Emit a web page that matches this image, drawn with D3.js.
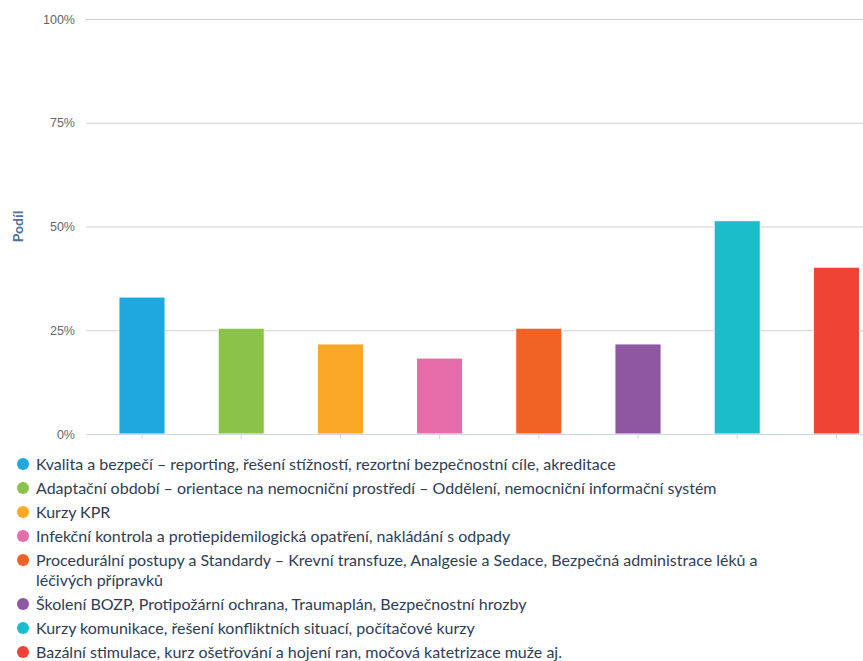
<!DOCTYPE html>
<html>
<head>
<meta charset="utf-8">
<script src="https://cdn.jsdelivr.net/npm/d3@7/dist/d3.min.js"></script>
<style>
	body{ margin:0; background:#fff; overflow:hidden; }
	svg{ display:block; font-family:Lato, "Noto Sans", sans-serif; }
</style>
</head>
<body>
<div id="chart"></div>
<script>
// data
var categories = [
	"Kvalita a bezpečí – reporting, řešení stížností, rezortní bezpečnostní cíle, akreditace",
	"Adaptační období – orientace na nemocniční prostředí – Oddělení, nemocniční informační systém",
	"Kurzy KPR",
	"Infekční kontrola a protiepidemilogická opatření, nakládání s odpady",
	"Procedurální postupy a Standardy – Krevní transfuze, Analgesie a Sedace, Bezpečná administrace léků a léčivých přípravků",
	"Školení BOZP, Protipožární ochrana, Traumaplán, Bezpečnostní hrozby",
	"Kurzy komunikace, řešení konfliktních situací, počítačové kurzy",
	"Bazální stimulace, kurz ošetřování a hojení ran, močová katetrizace muže aj."
];
var shares = [33.0, 25.5, 21.7, 18.3, 25.5, 21.7, 51.4, 40.2];
var colors = ["#1fa8e0", "#8bc34a", "#fba827", "#e76caa", "#ef6424", "#8f56a1", "#1bbdcc", "#ef4336"];
var yTicks = [0, 25, 50, 75, 100];
var yTitle = "Podíl";

var width = 863, height = 661;
var svg = d3.select("#chart").append("svg")
	.attr("width", width)
	.attr("height", height);

var plotLeft = 86,
	plotTop = 19,
	plotBottom = 434,
	step = 99.2;

var y = d3.scaleLinear().domain([0, 100]).range([plotBottom, plotTop]);
var x = d3.scaleBand()
	.domain(d3.range(categories.length))
	.range([92.4, 92.4 + step * categories.length])
	.paddingInner(0.535)
	.paddingOuter(0.2675);

// grid
var yAxis = d3.axisLeft(y).tickValues(yTicks)
	.tickSize(-(width - plotLeft))
	.tickPadding(10)
	.tickFormat(function(d){ return d + "%"; });
var gy = svg.append("g").attr("class", "y-axis")
	.attr("transform", "translate(" + plotLeft + ",0)")
	.call(yAxis);
gy.select(".domain").remove();
gy.selectAll(".tick line").attr("stroke", "#d0d0d0").attr("stroke-width", 1);
gy.selectAll(".tick text")
	.attr("fill", "#666")
	.attr("font-size", 12.5)
	.attr("x", -11);

// bars
svg.append("g").attr("class", "bars")
	.selectAll("rect")
	.data(shares)
	.enter().append("rect")
	.attr("x", function(d, i){ return x(i); })
	.attr("y", function(d){ return y(d); })
	.attr("width", x.bandwidth())
	.attr("height", function(d){ return plotBottom - y(d); })
	.attr("fill", function(d, i){ return colors[i]; })
	.attr("stroke", "#fff")
	.attr("stroke-width", 1);

// x axis
var xAxis = d3.axisBottom(x).tickSize(5).tickFormat("");
var gx = svg.append("g").attr("class", "x-axis")
	.attr("transform", "translate(0," + plotBottom + ")")
	.call(xAxis);
gx.select(".domain").attr("d", "M" + plotLeft + ",0.5H" + width).attr("stroke", "#ccd6eb");
gx.selectAll(".tick line").attr("stroke", "#ccd6eb");

// y title
svg.append("text")
	.attr("transform", "translate(23," + ((plotTop + plotBottom) / 2) + ") rotate(-90)")
	.attr("text-anchor", "middle")
	.attr("font-size", 14)
	.attr("font-weight", "bold")
	.attr("fill", "#4d73a3")
	.text(yTitle);

// legend
var legend = svg.append("g").attr("class", "legend"),
	ly = 470,
	maxW = 745;
categories.forEach(function(name, i){
	var item = legend.append("g");
	item.append("circle")
		.attr("cx", 23)
		.attr("cy", ly - 6)
		.attr("r", 6)
		.attr("fill", colors[i]);
	var t = item.append("text")
		.attr("x", 36)
		.attr("y", ly)
		.attr("font-size", 16)
		.attr("fill", "#2e3d54");
	// simple word wrap
	var words = name.split(" "),
		line = [],
		tspan = t.append("tspan").attr("x", 36).attr("y", ly),
		lines = 1;
	words.forEach(function(w){
		line.push(w);
		tspan.text(line.join(" "));
		if(tspan.node().getComputedTextLength() > maxW && line.length > 1){
			line.pop();
			tspan.text(line.join(" "));
			line = [w];
			lines++;
			tspan = t.append("tspan").attr("x", 36).attr("y", ly + (lines - 1) * 20).text(w);
		}
	});
	ly += 24 + (lines - 1) * 20;
});
</script>
</body>
</html>
